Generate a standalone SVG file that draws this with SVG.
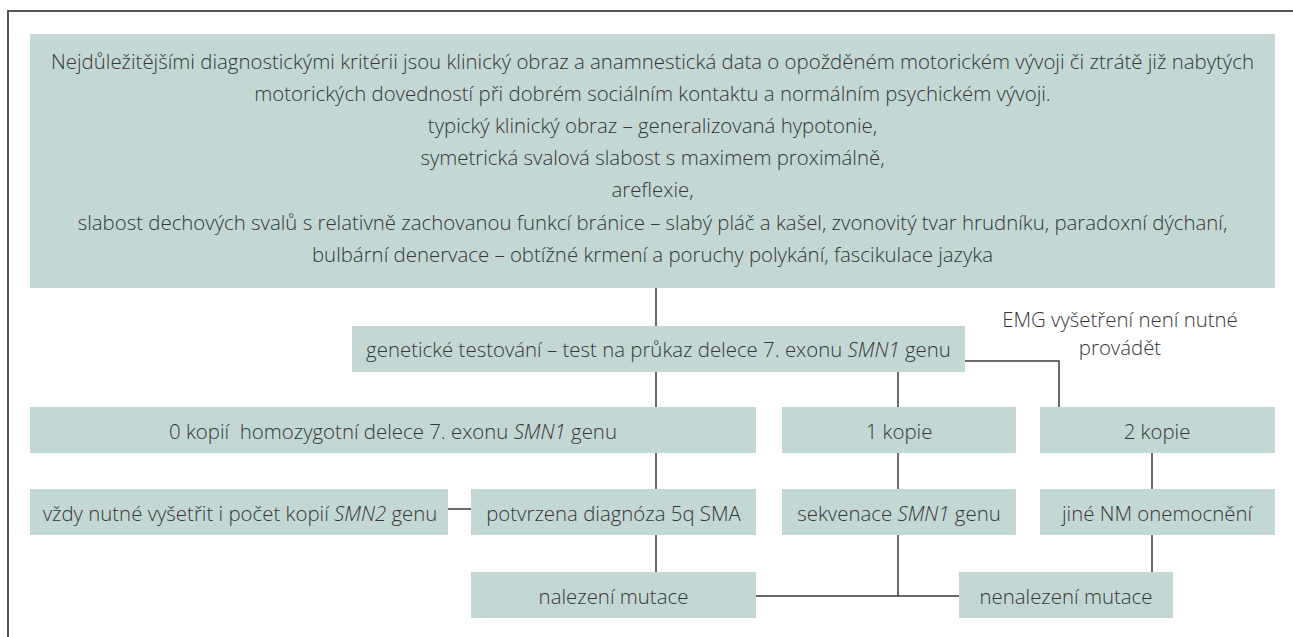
<svg xmlns="http://www.w3.org/2000/svg" width="1293" height="637" viewBox="0 0 1293 637">
<style>
.box{fill:#c3d8d5}
text{font-family:"Open Sans","Noto Sans","Liberation Sans",sans-serif;font-weight:300;font-size:20.4px;fill:#363636;text-anchor:middle}
.it{font-style:italic}
.con{stroke:#3a3a3a;stroke-width:1.5;fill:none}
.frame{stroke:#555;stroke-width:2;fill:none}
</style>
<rect width="1293" height="637" fill="#fff"/>
<path class="frame" d="M8,637 V11 H1293"/>
<g id="connectors">
<path class="con" d="M656,288 V326"/>
<path class="con" d="M656,372 V407"/>
<path class="con" d="M898,372 V407"/>
<path class="con" d="M965,361 H1059 V407"/>
<path class="con" d="M656,453 V489"/>
<path class="con" d="M448,509 H471"/>
<path class="con" d="M656,535 V572"/>
<path class="con" d="M898,453 V489"/>
<path class="con" d="M1152,453 V489"/>
<path class="con" d="M898,535 V596"/>
<path class="con" d="M756,596 H959"/>
<path class="con" d="M1152,535 V572"/>
</g>
<g id="criteria">
<rect class="box" x="30" y="34" width="1245" height="254"/>
<text x="652.5" y="69">Nejdůležitějšími diagnostickými kritérii jsou klinický obraz a anamnestická data o opožděném motorickém vývoji či ztrátě již nabytých</text>
<text x="652.5" y="101">motorických dovedností při dobrém sociálním kontaktu a normálním psychickém vývoji.</text>
<text x="652.5" y="133">typický klinický obraz – generalizovaná hypotonie,</text>
<text x="652.5" y="165">symetrická svalová slabost s maximem proximálně,</text>
<text x="652.5" y="197">areflexie,</text>
<text x="652.5" y="230">slabost dechových svalů s relativně zachovanou funkcí bránice – slabý pláč a kašel, zvonovitý tvar hrudníku, paradoxní dýchaní,</text>
<text x="652.5" y="262">bulbární denervace – obtížné krmení a poruchy polykání, fascikulace jazyka</text>
</g>
<g id="genetic">
<rect class="box" x="352" y="326" width="613" height="46"/>
<text x="658.5" y="357">genetické testování – test na průkaz delece 7. exonu <tspan class="it">SMN1</tspan> genu</text>
</g>
<g id="emg">
<text x="1120" y="327">EMG vyšetření není nutné</text>
<text x="1120" y="355">provádět</text>
</g>
<g id="kopie0">
<rect class="box" x="30" y="407" width="726" height="46"/>
<text x="393" y="438.5" xml:space="preserve">0 kopií  homozygotní delece 7. exonu <tspan class="it">SMN1</tspan> genu</text>
</g>
<g id="kopie1">
<rect class="box" x="782" y="407" width="234" height="46"/>
<text x="899" y="438.5">1 kopie</text>
</g>
<g id="kopie2">
<rect class="box" x="1040" y="407" width="235" height="46"/>
<text x="1157" y="438.5">2 kopie</text>
</g>
<g id="smn2">
<rect class="box" x="30" y="489" width="418" height="46"/>
<text x="240" y="520.5">vždy nutné vyšetřit i počet kopií <tspan class="it">SMN2</tspan> genu</text>
</g>
<g id="potvrzena">
<rect class="box" x="471" y="489" width="285" height="46"/>
<text x="613.5" y="520.5">potvrzena diagnóza 5q SMA</text>
</g>
<g id="sekvenace">
<rect class="box" x="782" y="489" width="234" height="46"/>
<text x="899" y="520.5">sekvenace <tspan class="it">SMN1</tspan> genu</text>
</g>
<g id="jine">
<rect class="box" x="1040" y="489" width="235" height="46"/>
<text x="1157" y="520.5">jiné NM onemocnění</text>
</g>
<g id="nalezeni">
<rect class="box" x="471" y="572" width="285" height="46"/>
<text x="613.5" y="603.5">nalezení mutace</text>
</g>
<g id="nenalezeni">
<rect class="box" x="959" y="572" width="214" height="46"/>
<text x="1066" y="603.5">nenalezení mutace</text>
</g>
</svg>
